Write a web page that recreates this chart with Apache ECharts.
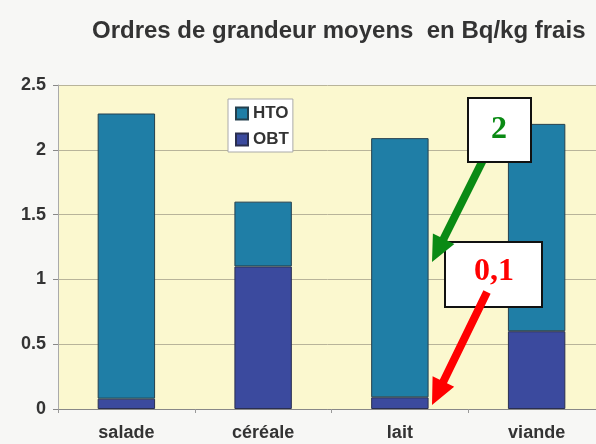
<!DOCTYPE html>
<html>
<head>
<meta charset="utf-8">
<script src="https://cdn.jsdelivr.net/npm/echarts@6/dist/echarts.min.js"></script>
<style>
  html, body { margin: 0; padding: 0; background: #f7f7f5; }
  #chart { width: 596px; height: 444px; }
</style>
</head>
<body>
<div id="chart"></div>
<script>
// Valeurs (Bq/kg frais)
var categories = ['salade', 'céréale', 'lait', 'viande'];
var obtValues = [0.08, 1.1, 0.09, 0.6];
var htoValues = [2.2, 0.5, 2.0, 1.6];
var yTicks = [0, 0.5, 1, 1.5, 2, 2.5];

var chart = echarts.init(document.getElementById('chart'));

// build an arrow polygon from start to tip
function arrowPoints(x1, y1, x2, y2, shaft, headLen, headW) {
  var dx = x2 - x1, dy = y2 - y1;
  var len = Math.sqrt(dx * dx + dy * dy);
  var ux = dx / len, uy = dy / len;
  var px = -uy, py = ux;
  var bx = x2 - ux * headLen, by = y2 - uy * headLen;
  var s = shaft / 2, h = headW / 2;
  return [
    [x1 + px * s, y1 + py * s],
    [bx + px * s, by + py * s],
    [bx + px * h, by + py * h],
    [x2, y2],
    [bx - px * h, by - py * h],
    [bx - px * s, by - py * s],
    [x1 - px * s, y1 - py * s]
  ];
}

var option = {
  backgroundColor: '#f7f7f5',
  animation: false,
  title: {
    text: 'Ordres de grandeur moyens  en Bq/kg frais',
    left: 87,
    top: 14,
    textStyle: {
      fontFamily: 'Liberation Sans',
      fontSize: 24,
      fontWeight: 'bold',
      color: '#333'
    }
  },
  legend: {
    data: ['HTO', 'OBT'],
    orient: 'vertical',
    left: 228,
    top: 99,
    padding: [6, 4, 4, 7],
    itemGap: 9,
    itemWidth: 12,
    itemHeight: 12,
    backgroundColor: '#ffffff',
    borderColor: '#aaa',
    borderWidth: 1,
    borderRadius: 0,
    icon: 'rect',
    textStyle: {
      fontFamily: 'Liberation Sans',
      fontSize: 17,
      lineHeight: 17,
      fontWeight: 'bold',
      color: '#333'
    }
  },
  grid: {
    left: 58,
    width: 547,
    top: 85,
    bottom: 35,
    outerBoundsMode: 'none',
    show: true,
    backgroundColor: '#fbf8cf',
    borderWidth: 0
  },
  xAxis: {
    type: 'category',
    data: categories,
    axisLine: { lineStyle: { color: '#888', width: 1 } },
    axisTick: { show: true, length: 4, lineStyle: { color: '#999' } },
    axisLabel: {
      margin: 15,
      fontFamily: 'Liberation Sans',
      fontSize: 18,
      fontWeight: 'bold',
      color: '#333'
    }
  },
  yAxis: {
    type: 'value',
    min: yTicks[0],
    max: yTicks[yTicks.length - 1],
    interval: 0.5,
    axisLine: { show: true, lineStyle: { color: '#aaa', width: 1 } },
    axisTick: { show: true, length: 5, lineStyle: { color: '#888' } },
    splitLine: { lineStyle: { color: '#b8b49a', width: 1 } },
    axisLabel: {
      margin: 12,
      fontFamily: 'Liberation Sans',
      fontSize: 18,
      fontWeight: 'bold',
      color: '#333'
    }
  },
  series: [
    {
      name: 'OBT',
      type: 'bar',
      stack: 'total',
      data: obtValues,
      barWidth: '42%',
      itemStyle: { color: '#3b4a9e', borderColor: '#2a2f50', borderWidth: 1 }
    },
    {
      name: 'HTO',
      type: 'bar',
      stack: 'total',
      data: htoValues,
      barWidth: '42%',
      itemStyle: { color: '#1f7ea6', borderColor: '#24404e', borderWidth: 1 }
    }
  ],
  graphic: [
    {
      type: 'polygon',
      shape: { points: arrowPoints(488, 150, 432, 262, 8, 26, 24) },
      style: { fill: '#0a8a14' },
      z: 100
    },
    {
      type: 'rect',
      shape: { x: 468, y: 98, width: 63, height: 64 },
      style: { fill: '#ffffff', stroke: '#111', lineWidth: 2 },
      z: 101
    },
    {
      type: 'text',
      x: 499,
      y: 130,
      style: {
        text: '2',
        fontFamily: 'Liberation Serif',
        fontSize: 32,
        fontWeight: 'bold',
        fill: '#0a8a14',
        align: 'center',
        verticalAlign: 'middle'
      },
      z: 102
    },
    {
      type: 'polygon',
      shape: { points: arrowPoints(487, 292, 432, 405, 8, 26, 24) },
      style: { fill: '#ff0000' },
      z: 100
    },
    {
      type: 'rect',
      shape: { x: 445, y: 242, width: 97, height: 65 },
      style: { fill: '#ffffff', stroke: '#111', lineWidth: 2 },
      z: 99
    },
    {
      type: 'text',
      x: 494,
      y: 272,
      style: {
        text: '0,1',
        fontFamily: 'Liberation Serif',
        fontSize: 32,
        fontWeight: 'bold',
        fill: '#ff0000',
        align: 'center',
        verticalAlign: 'middle'
      },
      z: 102
    }
  ]
};

chart.setOption(option);
</script>
</body>
</html>
